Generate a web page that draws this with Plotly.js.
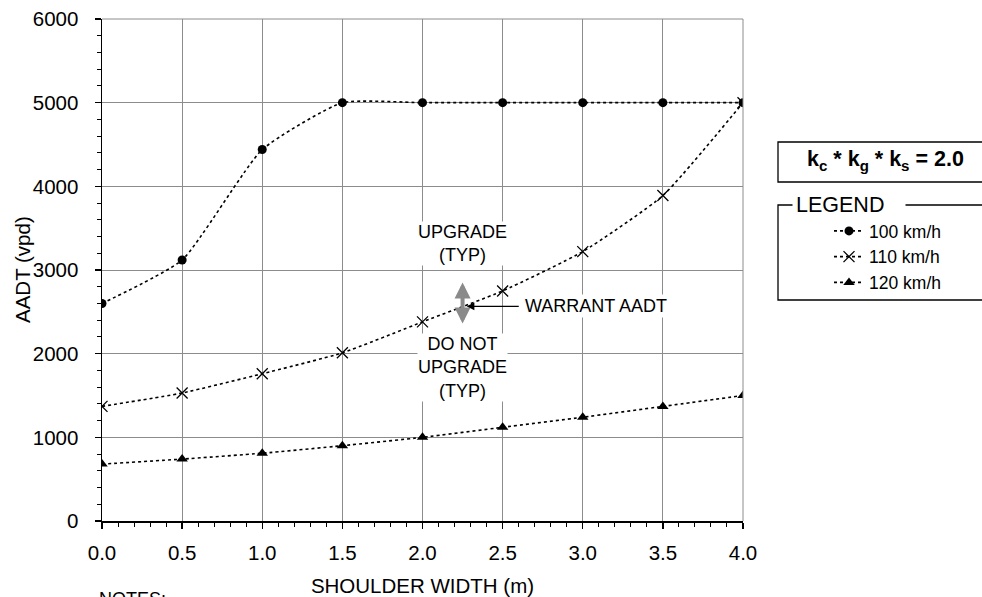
<!DOCTYPE html>
<html>
<head>
<meta charset="utf-8">
<script src="https://cdn.plot.ly/plotly-3.0.1.min.js"></script>
<style>html,body{margin:0;padding:0;background:#fff;}#chart{width:982px;height:597px;}</style>
</head>
<body>
<div id="chart"></div>
<script>
const shoulderWidth = [0.0, 0.5, 1.0, 1.5, 2.0, 2.5, 3.0, 3.5, 4.0];
const aadt100 = [2600, 3120, 4440, 5000, 5000, 5000, 5000, 5000, 5000];
const aadt110 = [1370, 1530, 1760, 2010, 2380, 2750, 3220, 3890, 5000];
const aadt120 = [680, 740, 810, 900, 1000, 1120, 1240, 1370, 1500];
const seriesNames = ['100 km/h', '110 km/h', '120 km/h'];
const xTickVals = [0, 0.5, 1.0, 1.5, 2.0, 2.5, 3.0, 3.5, 4.0];
const xTickText = ['0.0', '0.5', '1.0', '1.5', '2.0', '2.5', '3.0', '3.5', '4.0'];
const yTickVals = [0, 1000, 2000, 3000, 4000, 5000, 6000];

const FONT = 'Liberation Sans, Arial, sans-serif';
const lineStyle = {color: '#000', width: 1.6, dash: 'dot', shape: 'spline', smoothing: 0.5};

const traces = [
  {x: shoulderWidth, y: aadt100, name: seriesNames[0], mode: 'lines+markers', type: 'scatter',
   line: lineStyle, marker: {symbol: 'circle', size: 9, color: '#000'}},
  {x: shoulderWidth, y: aadt110, name: seriesNames[1], mode: 'lines+markers', type: 'scatter',
   line: lineStyle, marker: {symbol: 'x-thin', size: 11, color: '#000', line: {color: '#000', width: 1.3}}},
  {x: shoulderWidth, y: aadt120, name: seriesNames[2], mode: 'lines+markers', type: 'scatter',
   line: lineStyle, marker: {symbol: 'triangle-up', size: 10, color: '#000'}}
];

const px = (p) => (p - 102) / 641;   // pixel x -> paper x
const py = (p) => (521 - p) / 502;   // pixel y -> paper y

const layout = {
  width: 982, height: 597,
  margin: {l: 102, r: 239, t: 19, b: 76},
  paper_bgcolor: '#fff', plot_bgcolor: '#fff',
  font: {family: FONT, color: '#000', size: 20.5},
  showlegend: true,
  legend: {x: px(829), y: py(213), xanchor: 'left', yanchor: 'top', bgcolor: 'rgba(0,0,0,0)',
           borderwidth: 0, font: {family: FONT, size: 17.5, color: '#000'}, tracegroupgap: 0, itemclick: false},
  xaxis: {
    range: [0, 4], tickvals: xTickVals, ticktext: xTickText,
    showgrid: true, gridcolor: '#8c8c8c', gridwidth: 1, zeroline: false,
    showline: true, linecolor: '#000', linewidth: 1.5,
    ticks: 'outside', ticklen: 6, tickwidth: 1.3, tickcolor: '#000',
    minor: {dtick: 0.1, ticks: 'outside', ticklen: 4, tickwidth: 1, tickcolor: '#000', showgrid: false},
    tickfont: {family: FONT, size: 20.5},
    ticklabelstandoff: 7,
    title: {text: 'SHOULDER WIDTH (m)', font: {family: FONT, size: 20.5}, standoff: 15}
  },
  yaxis: {
    range: [0, 6000], tickvals: yTickVals,
    showgrid: true, gridcolor: '#8c8c8c', gridwidth: 1, zeroline: false,
    showline: true, linecolor: '#000', linewidth: 1.5,
    ticks: 'outside', ticklen: 6, tickwidth: 1.3, tickcolor: '#000',
    minor: {dtick: 200, ticks: 'outside', ticklen: 4, tickwidth: 1, tickcolor: '#000', showgrid: false},
    tickfont: {family: FONT, size: 20.5},
    ticklabelstandoff: 12
  },
  shapes: [
    {type: 'line', xref: 'paper', yref: 'paper', x0: 0, x1: 1, y0: 1, y1: 1, line: {color: '#8c8c8c', width: 1}},
    {type: 'line', xref: 'paper', yref: 'paper', x0: 1, x1: 1, y0: 0, y1: 1, line: {color: '#8c8c8c', width: 1}},
    {type: 'rect', xref: 'paper', yref: 'paper', x0: px(778), x1: px(1000), y0: py(182), y1: py(142),
     line: {color: '#000', width: 1.3}, fillcolor: 'rgba(0,0,0,0)'},
    {type: 'rect', xref: 'paper', yref: 'paper', x0: px(778), x1: px(1000), y0: py(300), y1: py(205),
     line: {color: '#000', width: 1.3}, fillcolor: 'rgba(0,0,0,0)'}
  ],
  annotations: [
    {xref: 'paper', yref: 'paper', x: px(22), y: 0.5, text: 'AADT (vpd)', textangle: -90, showarrow: false,
     xanchor: 'center', yanchor: 'middle', font: {family: FONT, size: 20.5}},
    {xref: 'paper', yref: 'paper', x: px(885), y: py(160), text: '<b>k<sub>c</sub> * k<sub>g</sub> * k<sub>s</sub> = 2.0</b>',
     showarrow: false, font: {family: FONT, size: 21.5}, xanchor: 'center', yanchor: 'middle'},
    {xref: 'paper', yref: 'paper', x: px(792), y: py(205), text: 'LEGEND&nbsp;&nbsp;&nbsp;', showarrow: false,
     font: {family: FONT, size: 21.5}, xanchor: 'left', yanchor: 'middle', bgcolor: '#fff', borderpad: 3},
    {xref: 'x', yref: 'y', x: 2.25, y: 3320, text: 'UPGRADE<br>(TYP)', showarrow: false,
     font: {family: FONT, size: 18}, bgcolor: '#fff', borderpad: 0},
    {xref: 'x', yref: 'y', x: 2.25, y: 1840, text: 'DO NOT<br>UPGRADE<br>(TYP)', showarrow: false,
     font: {family: FONT, size: 18}, bgcolor: '#fff', borderpad: 0},
    {xref: 'x', yref: 'y', x: 2.25, y: 2360, ax: 2.25, ay: 2870, axref: 'x', ayref: 'y', text: '',
     showarrow: true, arrowside: 'end+start', arrowhead: 2, arrowsize: 0.8, arrowwidth: 4, arrowcolor: '#8a8a8a'},
    {xref: 'x', yref: 'y', x: 2.275, y: 2566, ax: 2.61, ay: 2566, axref: 'x', ayref: 'y', text: '',
     showarrow: true, arrowhead: 2, arrowsize: 1.2, arrowwidth: 1.3, arrowcolor: '#000'},
    {xref: 'x', yref: 'y', x: 2.63, y: 2566, text: 'WARRANT AADT', showarrow: false, xanchor: 'left',
     font: {family: FONT, size: 18}, bgcolor: '#fff', borderpad: 1},
    {xref: 'paper', yref: 'paper', x: px(97), y: py(587), text: 'NOTES:', showarrow: false,
     xanchor: 'left', yanchor: 'top', font: {family: FONT, size: 18}}
  ]
};

Plotly.newPlot('chart', traces, layout, {displayModeBar: false, staticPlot: true});
</script>
</body>
</html>
